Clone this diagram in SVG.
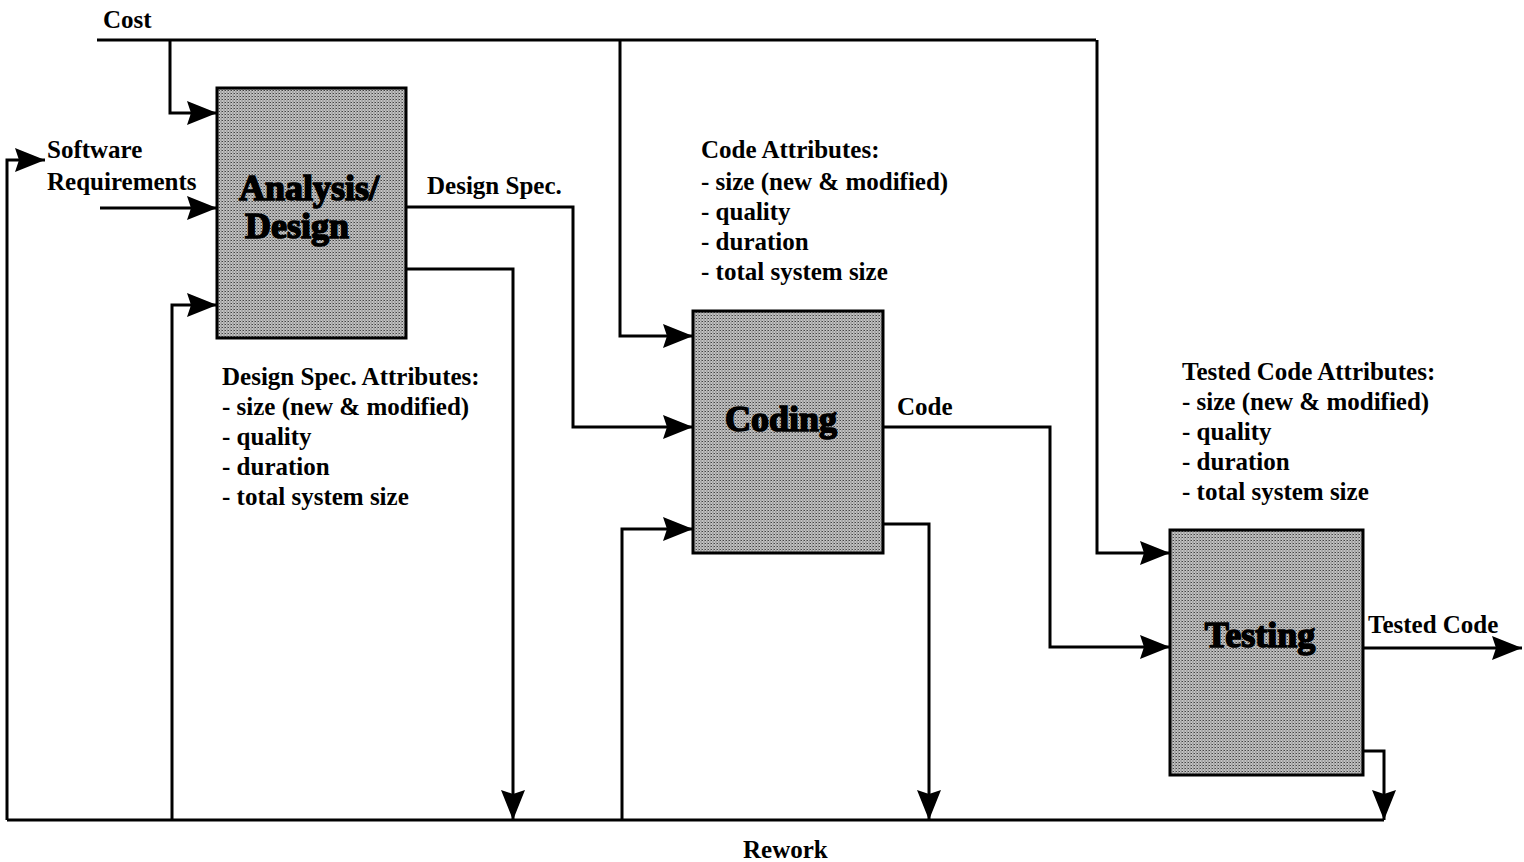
<svg xmlns="http://www.w3.org/2000/svg" width="1524" height="862" viewBox="0 0 1524 862">
<defs>
<pattern id="dots" width="3" height="3" patternUnits="userSpaceOnUse">
<rect width="3" height="3" fill="#c4c4c4"/>
<rect x="0" y="0" width="1" height="1" fill="#444"/>
<rect x="1.5" y="1.5" width="1" height="1" fill="#555"/>
<rect x="2" y="0" width="1" height="1" fill="#888"/>
</pattern>
<marker id="ah" viewBox="0 0 30 24" refX="30" refY="12" markerWidth="30" markerHeight="24" markerUnits="userSpaceOnUse" orient="auto">
<path d="M0,0 L30,12 L0,24 L4,12 Z" fill="#000"/>
</marker>
</defs>
<style>
.box{fill:url(#dots);stroke:#000;stroke-width:3}
.t{font-family:"Liberation Serif",serif;font-weight:bold;font-size:25px;fill:#000}
.title{font-family:"Liberation Serif",serif;font-weight:bold;font-size:36px;fill:#000;stroke:#000;stroke-width:1.6;text-anchor:middle}
.c{fill:none;stroke:#000;stroke-width:3}
.ca{fill:none;stroke:#000;stroke-width:3;marker-end:url(#ah)}
</style>
<rect width="1524" height="862" fill="#fff"/>
<g id="connectors">
<path class="c" d="M97,40 H1096"/>
<path class="ca" d="M170,40 V113 H217"/>
<path class="ca" d="M100,208 H217"/>
<path class="ca" d="M172,820 V305 H217"/>
<path class="ca" d="M7,820 V160 H45"/>
<path class="ca" d="M406,207 H573 V427 H693"/>
<path class="ca" d="M406,269 H513 V820"/>
<path class="ca" d="M620,40 V336 H693"/>
<path class="ca" d="M622,820 V529 H693"/>
<path class="ca" d="M883,427 H1050 V647 H1170"/>
<path class="ca" d="M883,524 H929 V820"/>
<path class="ca" d="M1097,40 V553 H1170"/>
<path class="ca" d="M1363,648 H1522"/>
<path class="ca" d="M1363,751 H1384 V820"/>
<path class="c" d="M7,820 H1384"/>
</g>
<g id="analysis">
<rect class="box" x="217" y="88" width="189" height="250"/>
<text class="title" x="309" y="200">Analysis/</text>
<text class="title" x="297" y="238">Design</text>
</g>
<g id="coding">
<rect class="box" x="693" y="311" width="190" height="242"/>
<text class="title" x="781" y="431">Coding</text>
</g>
<g id="testing">
<rect class="box" x="1170" y="530" width="193" height="245"/>
<text class="title" x="1260" y="647">Testing</text>
</g>
<g id="labels">
<text class="t" x="103" y="28">Cost</text>
<text class="t" x="47" y="158">Software</text>
<text class="t" x="47" y="190">Requirements</text>
<text class="t" x="427" y="194">Design Spec.</text>
<text class="t" x="897" y="415">Code</text>
<text class="t" x="1368" y="633">Tested Code</text>
<text class="t" x="743" y="858">Rework</text>
<text class="t" x="222" y="385">Design Spec. Attributes:</text>
<text class="t" x="222" y="415">- size (new &amp; modified)</text>
<text class="t" x="222" y="445">- quality</text>
<text class="t" x="222" y="475">- duration</text>
<text class="t" x="222" y="505">- total system size</text>
<text class="t" x="701" y="158">Code Attributes:</text>
<text class="t" x="701" y="190">- size (new &amp; modified)</text>
<text class="t" x="701" y="220">- quality</text>
<text class="t" x="701" y="250">- duration</text>
<text class="t" x="701" y="280">- total system size</text>
<text class="t" x="1182" y="380">Tested Code Attributes:</text>
<text class="t" x="1182" y="410">- size (new &amp; modified)</text>
<text class="t" x="1182" y="440">- quality</text>
<text class="t" x="1182" y="470">- duration</text>
<text class="t" x="1182" y="500">- total system size</text>
</g>
</svg>
